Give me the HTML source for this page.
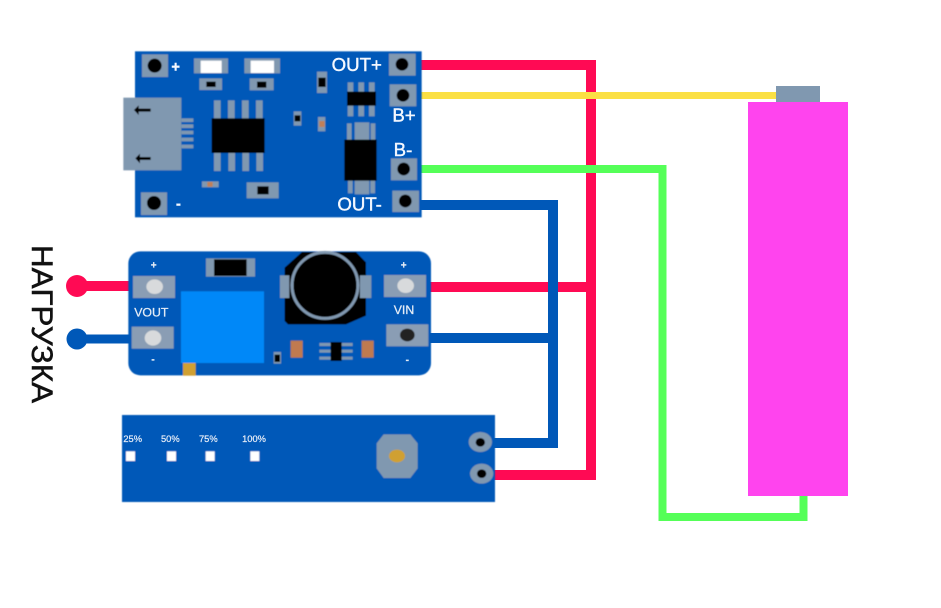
<!DOCTYPE html>
<html><head><meta charset="utf-8"><style>
html,body{margin:0;padding:0;background:#fff;width:941px;height:608px;overflow:hidden}
svg{display:block}
text{font-family:"Liberation Sans","DejaVu Sans",sans-serif}
</style></head><body>
<svg width="941" height="608" viewBox="0 0 941 608" xmlns="http://www.w3.org/2000/svg">
<defs><filter id="b" x="-5%" y="-5%" width="110%" height="110%"><feGaussianBlur stdDeviation="1.5"/></filter></defs>
<rect width="941" height="608" fill="#fff"/>
<!-- wires -->
<g fill="none" stroke-linejoin="miter">
<path d="M420 65H591V475H490" stroke="#ff0a54" stroke-width="10"/>
<path d="M425 287H591" stroke="#ff0a54" stroke-width="10"/>
<path d="M77 286H135" stroke="#ff0a54" stroke-width="10"/>
<path d="M420 205H553V443H490" stroke="#0058b8" stroke-width="10"/>
<path d="M425 338H553" stroke="#0058b8" stroke-width="10"/>
<path d="M77 339H135" stroke="#0058b8" stroke-width="9"/>
<path d="M418 169H662.500V517H803.500V490" stroke="#55ff58" stroke-width="8"/>
<path d="M415 95.500H780" stroke="#fbe044" stroke-width="7"/>
</g>
<circle cx="77" cy="286" r="11" fill="#ff0a54"/>
<circle cx="77" cy="339" r="10.500" fill="#0058b8"/>
<!-- battery -->
<rect x="776" y="86" width="44" height="16" fill="#8098b0"/>
<rect x="748" y="102" width="100" height="394" fill="#ff44ee"/>
<!-- label -->
<text transform="translate(32,245) rotate(90)" font-size="30" fill="#111" stroke="#111" stroke-width=".5" textLength="158" lengthAdjust="spacingAndGlyphs">НАГРУЗКА</text>

<!-- charger board -->
<g transform="translate(120,45) scale(.33333)">
<g filter="url(#b)">
<rect x="45" y="19" width="860" height="498" fill="#0058b8"/>
<g fill="#8098b0">
<rect x="66" y="28" width="78" height="68"/><rect x="807" y="26" width="80" height="66"/><rect x="809" y="118" width="80" height="66"/><rect x="813" y="340" width="78" height="66"/><rect x="817" y="437" width="80" height="64"/><rect x="63" y="442" width="78" height="68"/>
<rect x="222" y="40" width="102" height="45"/><rect x="373" y="40" width="107" height="45"/>
<rect x="238" y="100" width="68" height="35"/><rect x="389" y="100" width="72" height="36"/>
<rect x="591" y="80" width="30" height="64"/><rect x="521" y="199" width="23" height="43"/><rect x="594" y="216" width="22" height="43"/>
<rect x="246" y="409" width="50" height="18"/><rect x="380" y="412" width="96" height="48"/>
<rect x="10" y="158" width="174" height="218"/>
<rect x="184" y="220" width="36" height="11"/><rect x="184" y="238" width="36" height="11"/><rect x="184" y="257" width="36" height="11"/><rect x="184" y="278" width="36" height="11"/><rect x="184" y="299" width="36" height="11"/>
<rect x="282" y="166" width="20" height="56"/><rect x="324" y="166" width="20" height="56"/><rect x="366" y="166" width="20" height="56"/><rect x="408" y="166" width="20" height="56"/>
<rect x="282" y="322" width="20" height="56"/><rect x="325" y="322" width="20" height="56"/><rect x="367" y="322" width="20" height="56"/><rect x="409" y="322" width="20" height="56"/>
<rect x="683" y="112" width="17" height="102"/><rect x="715" y="112" width="17" height="102"/><rect x="747" y="112" width="17" height="102"/>
<rect x="681" y="235" width="14" height="60"/><rect x="704" y="232" width="44" height="60"/><rect x="752" y="235" width="14" height="60"/>
<rect x="684" y="400" width="14" height="45"/><rect x="704" y="400" width="44" height="48"/><rect x="751" y="400" width="14" height="45"/>
</g>
<rect x="242" y="47" width="63" height="37" fill="#fff"/><rect x="392" y="47" width="70" height="37" fill="#fff"/>
<g fill="#000">
<rect x="259" y="110" width="28" height="16"/><rect x="411" y="110" width="28" height="18"/><rect x="595" y="98" width="22" height="28"/><rect x="524" y="211" width="17" height="18"/>
<rect x="412" y="424" width="34" height="24"/>
<rect x="275" y="220" width="159" height="104"/>
<rect x="681" y="140" width="87" height="42"/>
<rect x="673" y="284" width="97" height="123"/>
<circle cx="104" cy="62" r="21"/><circle cx="846" cy="58" r="19"/><circle cx="849" cy="151" r="19"/><circle cx="851" cy="372" r="19"/><circle cx="856" cy="468" r="19"/><circle cx="102" cy="474" r="21"/>
<path d="M42 195l14-14v10h36v9h-36v10z"/><path d="M46 340l14-14v10h32v9h-32v10z"/>
</g>
<rect x="262" y="411" width="16" height="14" fill="#c08058"/><rect x="598" y="228" width="16" height="18" fill="#c08058"/>
</g>
<g fill="#f4f8ff" stroke="#f4f8ff" stroke-width="1.200" font-size="56">
<text x="154" y="80" font-size="44" font-weight="bold">+</text>
<text x="635" y="78">OUT+</text>
<text x="817" y="230">B+</text>
<text x="821" y="333">B-</text>
<text x="652" y="496">OUT-</text>
<text x="168" y="490" font-size="44" font-weight="bold">-</text>
</g>
</g>

<!-- boost board -->
<g transform="translate(60,245) scale(.33333)">
<g filter="url(#b)">
<rect x="205" y="19" width="908" height="372" rx="36" fill="#0058b8"/>
<g fill="#8a9db4"><rect x="219" y="93" width="126" height="66"/><rect x="215" y="245" width="126" height="66"/><rect x="972" y="90" width="126" height="66"/><rect x="979" y="238" width="126" height="66"/></g>
<g fill="#d8dadc"><ellipse cx="284" cy="125" rx="25" ry="22"/><ellipse cx="279" cy="279" rx="25" ry="23"/><ellipse cx="1037" cy="122" rx="25" ry="22"/></g>
<ellipse cx="1042" cy="270" rx="22" ry="19" fill="#222"/>
<rect x="363" y="139" width="249" height="215" fill="#0088f8"/>
<rect x="369" y="354" width="38" height="38" fill="#d0a030"/>
<rect x="438" y="40" width="147" height="55" fill="#8098b0"/><rect x="462" y="43" width="98" height="50" fill="#000"/>
<path d="M726 21H888L918 52V212L858 238H684L674 228V68Z" fill="#000"/>
<rect x="660" y="91" width="28" height="68" fill="#8098b0"/><rect x="900" y="91" width="34" height="68" fill="#8098b0"/>
<circle cx="795" cy="121" r="99" fill="#000" stroke="#8098b0" stroke-width="9"/>
<rect x="692" y="287" width="36" height="51" fill="#c07a50"/><rect x="905" y="287" width="36" height="51" fill="#c07a50"/>
<rect x="778" y="294" width="100" height="9" fill="#8098b0"/><rect x="778" y="314" width="100" height="9" fill="#8098b0"/><rect x="778" y="335" width="100" height="9" fill="#8098b0"/>
<rect x="812" y="291" width="33" height="57" fill="#000"/>
<rect x="641" y="321" width="22" height="35" fill="#8098b0"/><rect x="644" y="329" width="16" height="22" fill="#000"/>
</g>
<g fill="#e4ecf6" stroke="#e4ecf6" stroke-width=".8" font-size="37" text-anchor="middle">
<text x="281" y="70" font-size="30" font-weight="bold">+</text>
<text x="274" y="214">VOUT</text>
<text x="279" y="352" font-size="30" font-weight="bold">-</text>
<text x="1031" y="70" font-size="30" font-weight="bold">+</text>
<text x="1032" y="207">VIN</text>
<text x="1042" y="354" font-size="30" font-weight="bold">-</text>
</g>
</g>

<!-- indicator board -->
<g transform="translate(115,410) scale(.33333)">
<g filter="url(#b)">
<rect x="21" y="15" width="1119" height="261" fill="#0058b8"/>
<g fill="#fff"><rect x="33" y="124" width="27" height="29"/><rect x="156" y="124" width="27" height="29"/><rect x="272" y="124" width="27" height="29"/><rect x="406" y="124" width="27" height="29"/></g>
<path d="M806 73H886L908 100V175L886 204H806L785 175V100Z" fill="#8098b0"/>
<ellipse cx="846" cy="138" rx="24" ry="19" fill="#d0a030"/>
<ellipse cx="1096" cy="96" rx="35" ry="30" fill="#8098b0"/><ellipse cx="1100" cy="191" rx="35" ry="30" fill="#8098b0"/>
<ellipse cx="1096" cy="97" rx="14" ry="13" fill="#000"/><ellipse cx="1100" cy="191" rx="14" ry="13" fill="#000"/>
</g>
<g fill="#e8eef8" stroke="#e8eef8" stroke-width=".6" font-size="28" text-anchor="middle">
<text x="53" y="96">25%</text><text x="166" y="96">50%</text><text x="280" y="96">75%</text><text x="417" y="96">100%</text>
</g>
</g>
</svg>
</body></html>
